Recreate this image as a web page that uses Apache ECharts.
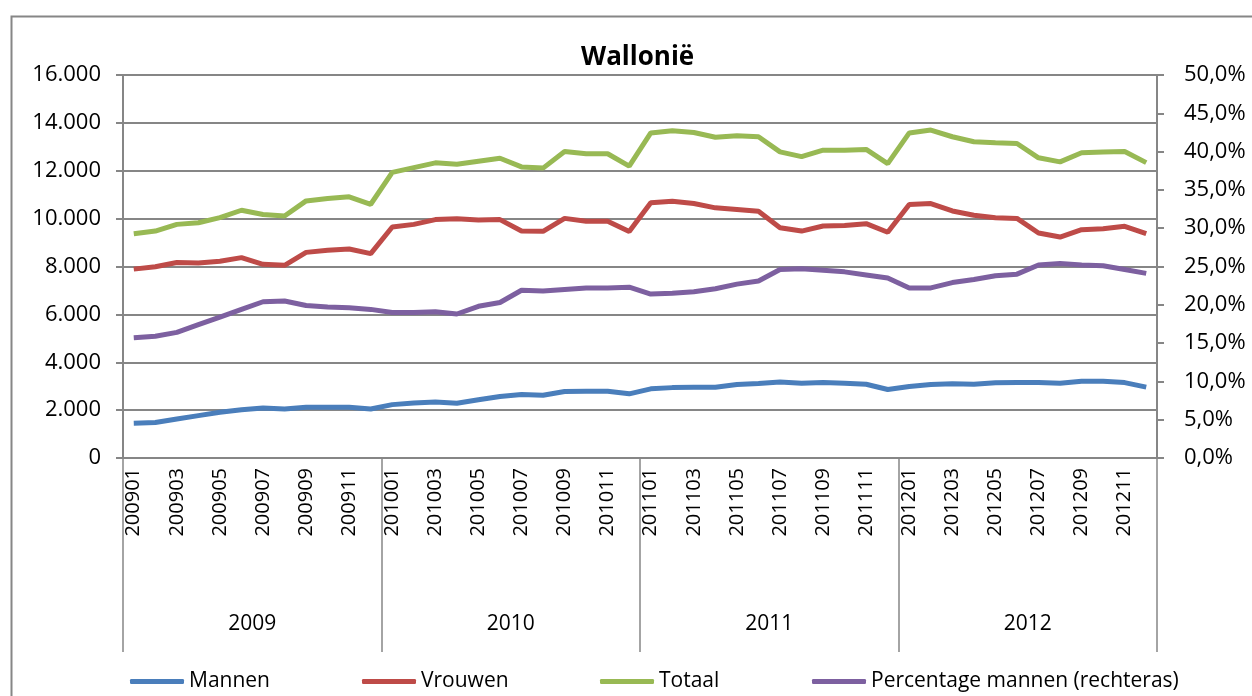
<!DOCTYPE html>
<html>
<head>
<meta charset="utf-8">
<script src="https://cdn.jsdelivr.net/npm/echarts@6/dist/echarts.min.js"></script>
<style>
  html, body { margin: 0; padding: 0; background: #fff; }
  #chart { width: 1252px; height: 696px; }
</style>
</head>
<body>
<div id="chart"></div>
<script>
// maanden 2009-2012
var months = [
  "200901","200902","200903","200904","200905","200906","200907","200908","200909","200910","200911","200912",
  "201001","201002","201003","201004","201005","201006","201007","201008","201009","201010","201011","201012",
  "201101","201102","201103","201104","201105","201106","201107","201108","201109","201110","201111","201112",
  "201201","201202","201203","201204","201205","201206","201207","201208","201209","201210","201211","201212"
];
var years = ["2009", "2010", "2011", "2012"];

var mannen = [
  1450,1480,1630,1770,1910,2020,2090,2050,2120,2120,2120,2050,
  2230,2300,2340,2290,2430,2570,2650,2620,2780,2790,2790,2680,
  2890,2940,2960,2960,3070,3110,3170,3120,3150,3120,3080,2860,
  2990,3070,3100,3080,3140,3150,3150,3120,3210,3210,3150,2960
];
var vrouwen = [
  7890,7990,8170,8150,8220,8370,8090,8050,8590,8680,8730,8540,
  9650,9760,9960,9990,9940,9960,9480,9470,10010,9890,9890,9460,
  10660,10730,10630,10450,10380,10310,9620,9480,9690,9710,9790,9430,
  10590,10630,10320,10140,10040,10010,9400,9230,9540,9580,9680,9370
];
var totaal = [
  9370,9480,9760,9830,10040,10350,10170,10110,10740,10840,10910,10600,
  11930,12130,12330,12270,12400,12520,12160,12110,12800,12710,12710,12190,
  13580,13670,13600,13400,13460,13420,12790,12590,12860,12860,12890,12300,
  13580,13700,13420,13210,13170,13140,12540,12370,12750,12780,12800,12340
];
// percentage mannen (rechteras), in %
var percentage = [
  15.7,15.9,16.4,17.4,18.4,19.4,20.4,20.5,19.9,19.7,19.6,19.4,
  19.0,19.0,19.1,18.8,19.8,20.3,21.9,21.8,22.0,22.2,22.2,22.3,
  21.4,21.5,21.7,22.1,22.7,23.1,24.6,24.7,24.5,24.3,23.9,23.5,
  22.2,22.2,22.9,23.3,23.8,24.0,25.2,25.4,25.2,25.1,24.6,24.1
];

var FONT = "Open Sans";
var GRAY = "#868686";

var chart = echarts.init(document.getElementById("chart"));

function legendItem(name, left) {
  return {
    data: [name],
    left: left,
    top: 671,
    padding: 0,
    icon: "roundRect",
    itemWidth: 54,
    itemHeight: 5,
    itemGap: 0,
    selectedMode: false,
    textStyle: { color: "#000", fontFamily: FONT, fontSize: 21 }
  };
}

chart.setOption({
  backgroundColor: "#fff",
  animation: false,
  graphic: [
    {
      // kader rond de grafiek
      type: "rect",
      left: 9,
      top: 14,
      shape: { width: 1300, height: 800 },
      style: { fill: "none", stroke: GRAY, lineWidth: 2 },
      z: -1
    }
  ],
  title: {
    text: "Wallonië",
    left: 576,
    top: 40,
    textStyle: { fontFamily: FONT, fontSize: 26, fontWeight: "bold", color: "#000" }
  },
  legend: [
    legendItem("Mannen", 130),
    legendItem("Vrouwen", 362),
    legendItem("Totaal", 600),
    legendItem("Percentage mannen (rechteras)", 812)
  ],
  grid: { left: 123, right: 95, top: 75, bottom: 238 },
  xAxis: [
    {
      type: "category",
      data: months,
      boundaryGap: true,
      axisLine: { show: true, lineStyle: { color: GRAY, width: 2 } },
      axisTick: { show: false },
      axisLabel: {
        interval: 1,
        rotate: 90,
        margin: 10,
        color: "#000",
        fontFamily: FONT,
        fontSize: 20
      },
      splitLine: { show: false }
    },
    {
      type: "category",
      data: years,
      position: "bottom",
      offset: 0,
      boundaryGap: true,
      axisLine: { show: true, lineStyle: { color: GRAY, width: 2 } },
      axisTick: { show: true, length: 194, lineStyle: { color: GRAY, width: 1.5 } },
      axisLabel: {
        margin: 156,
        color: "#000",
        fontFamily: FONT,
        fontSize: 21
      },
      splitLine: { show: false }
    }
  ],
  yAxis: [
    {
      type: "value",
      min: 0,
      max: 16000,
      interval: 2000,
      axisLine: { show: true, lineStyle: { color: GRAY, width: 2 } },
      axisTick: { show: true, length: 7, lineStyle: { color: GRAY, width: 2 } },
      axisLabel: {
        margin: 22,
        color: "#000",
        fontFamily: FONT,
        fontSize: 22,
        formatter: function (v) {
          return String(v).replace(/\B(?=(\d{3})+(?!\d))/g, ".");
        }
      },
      splitLine: { show: true, lineStyle: { color: GRAY, width: 2 } }
    },
    {
      type: "value",
      position: "right",
      min: 0,
      max: 50,
      interval: 5,
      axisLine: { show: true, lineStyle: { color: GRAY, width: 2 } },
      axisTick: { show: true, length: 7, lineStyle: { color: GRAY, width: 2 } },
      axisLabel: {
        margin: 27,
        color: "#000",
        fontFamily: FONT,
        fontSize: 22,
        formatter: function (v) {
          return v.toFixed(1).replace(".", ",") + "%";
        }
      },
      splitLine: { show: false }
    }
  ],
  series: [
    {
      name: "Mannen",
      type: "line",
      data: mannen,
      symbol: "none",
      lineStyle: { color: "#4A7EBB", width: 5 },
      itemStyle: { color: "#4A7EBB" }
    },
    {
      name: "Vrouwen",
      type: "line",
      data: vrouwen,
      symbol: "none",
      lineStyle: { color: "#BE4B48", width: 5 },
      itemStyle: { color: "#BE4B48" }
    },
    {
      name: "Totaal",
      type: "line",
      data: totaal,
      symbol: "none",
      lineStyle: { color: "#98B954", width: 5 },
      itemStyle: { color: "#98B954" }
    },
    {
      name: "Percentage mannen (rechteras)",
      type: "line",
      yAxisIndex: 1,
      data: percentage,
      symbol: "none",
      lineStyle: { color: "#7D60A0", width: 5 },
      itemStyle: { color: "#7D60A0" }
    }
  ]
});
</script>
</body>
</html>
